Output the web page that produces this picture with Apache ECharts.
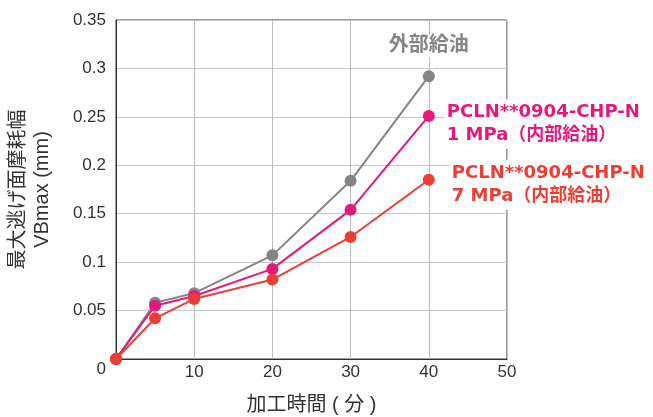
<!DOCTYPE html>
<html>
<head>
<meta charset="utf-8">
<script src="https://cdn.jsdelivr.net/npm/echarts@6/dist/echarts.min.js"></script>
<style>
html,body{margin:0;padding:0;background:#fff;}
#main{width:653px;height:417px;}
</style>
</head>
<body>
<div id="main"></div>
<script>
// ---- data ----
const times = [0, 5, 10, 20, 30, 40];
const externalOil = [0, 0.058, 0.068, 0.107, 0.184, 0.292];
const internal1MPa = [0, 0.055, 0.065, 0.093, 0.154, 0.251];
const internal7MPa = [0, 0.042, 0.062, 0.082, 0.126, 0.185];
const seriesNames = ['外部給油', 'PCLN**0904-CHP-N\n1 MPa（内部給油）', 'PCLN**0904-CHP-N\n7 MPa（内部給油）'];
const xTicks = [0, 10, 20, 30, 40, 50];
const yTicks = [0, 0.05, 0.1, 0.15, 0.2, 0.25, 0.3, 0.35];
const xAxisTitle = '加工時間 ( 分 )';
const yAxisTitle = '最大逃げ面摩耗幅\nVBmax (mm)';

const colors = ['#858587', '#e5197b', '#ee3e33'];
const FONT = '"Liberation Sans", "Noto Sans CJK JP", sans-serif';
const LABELFONT = '"DejaVu Sans", "Noto Sans CJK JP", sans-serif';

function pairs(ys) { return times.map((t, i) => [t, ys[i]]); }

function withEndLabel(ys, label) {
  const d = pairs(ys);
  const last = d.length - 1;
  d[last] = { value: d[last], label: label };
  return d;
}

const chart = echarts.init(document.getElementById('main'), null, { renderer: 'canvas' });

const labelBase = {
  show: true,
  fontFamily: LABELFONT,
  fontWeight: 'bold',
  fontSize: 18,
  lineHeight: 23,
  backgroundColor: '#fff',
  align: 'left'
};

const option = {
  animation: false,
  backgroundColor: '#fff',
  grid: { left: 116, right: 146, top: 20, bottom: 58, outerBoundsMode: 'none', containLabel: false,
    show: true, borderColor: '#333', borderWidth: 1, backgroundColor: 'transparent' },
  xAxis: {
    type: 'value', min: xTicks[0], max: xTicks[xTicks.length - 1], interval: 10,
    name: xAxisTitle, nameLocation: 'middle', nameGap: 36,
    nameTextStyle: { fontFamily: FONT, fontSize: 20, color: '#333' },
    axisLine: { lineStyle: { color: '#333', width: 1 } },
    axisTick: { show: false },
    axisLabel: { margin: 5, fontFamily: FONT, fontSize: 17, color: '#333',
      formatter: v => (v === 0 ? '' : String(v)) },
    splitLine: { show: true, lineStyle: { color: '#bdbdbd', width: 1 } }
  },
  yAxis: {
    type: 'value', min: yTicks[0], max: yTicks[yTicks.length - 1], interval: 0.05,
    name: yAxisTitle, nameLocation: 'middle', nameGap: 62, nameRotate: 90,
    nameTextStyle: { fontFamily: FONT, fontSize: 20, lineHeight: 24, color: '#333' },
    axisLine: { show: true, lineStyle: { color: '#333', width: 1 } },
    axisTick: { show: false },
    axisLabel: { margin: 10, fontFamily: FONT, fontSize: 17, color: '#333',
      formatter: v => {
        const t = yTicks.find(k => Math.abs(k - v) < 1e-9);
        const s = t === undefined ? String(v) : String(+t.toFixed(2));
        return v === 0 ? '{z|' + s + '}' : s;
      },
      rich: { z: { fontFamily: FONT, fontSize: 17, color: '#333', padding: [20, 0, 0, 0] } } },
    splitLine: { show: true, lineStyle: { color: '#c8c8c8', width: 1 } }
  },
  series: [
    {
      name: seriesNames[0], type: 'line', data: withEndLabel(externalOil, Object.assign({}, labelBase, {
        position: 'top', distance: 13, align: 'center', fontSize: 20, fontFamily: FONT, color: colors[0], formatter: seriesNames[0], padding: [0, 1]
      })),
      symbol: 'circle', symbolSize: 12, color: colors[0],
      lineStyle: { width: 2, color: colors[0] }, itemStyle: { color: colors[0] }, z: 2
    },
    {
      name: seriesNames[1], type: 'line', data: withEndLabel(internal1MPa, Object.assign({}, labelBase, {
        position: 'right', distance: 10, offset: [0, 8], color: colors[1], formatter: seriesNames[1], padding: [2, 2]
      })),
      symbol: 'circle', symbolSize: 12, color: colors[1],
      lineStyle: { width: 2, color: colors[1] }, itemStyle: { color: colors[1] }, z: 3
    },
    {
      name: seriesNames[2], type: 'line', data: withEndLabel(internal7MPa, Object.assign({}, labelBase, {
        position: 'right', distance: 15, offset: [0, 5], color: colors[2], formatter: seriesNames[2], padding: [2, 2]
      })),
      symbol: 'circle', symbolSize: 12, color: colors[2],
      lineStyle: { width: 2, color: colors[2] }, itemStyle: { color: colors[2] }, z: 4
    }
  ]
};
chart.setOption(option);
</script>
</body>
</html>
